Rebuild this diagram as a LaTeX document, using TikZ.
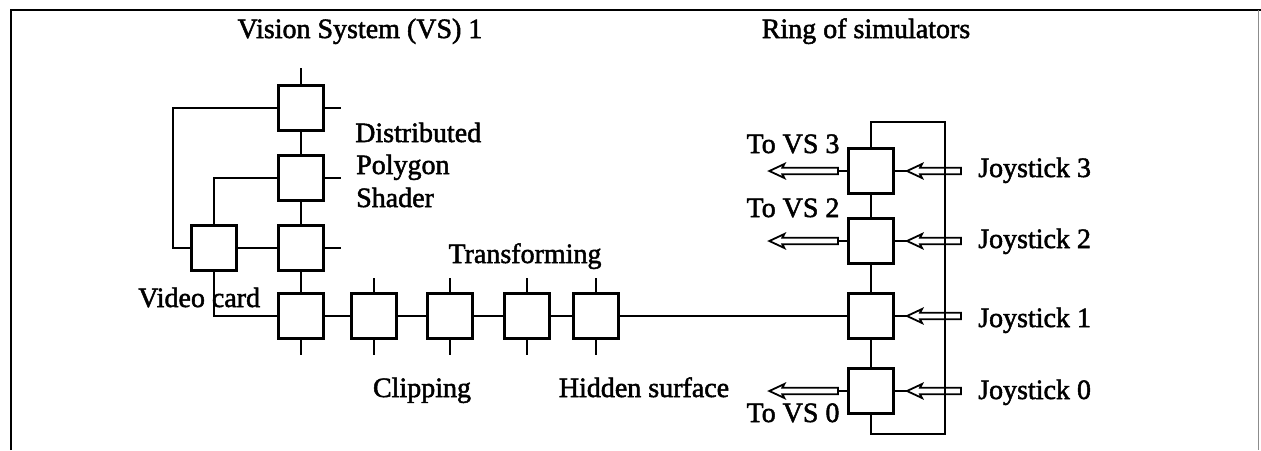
\documentclass[tikz,border=0pt]{standalone}
\usepackage{fontspec}
\setmainfont{Liberation Serif}[FakeBold=1.8]
\usetikzlibrary{arrows.meta,positioning,calc}

\tikzset{
  unit/.style={draw, line width=2.6pt, minimum size=45.4pt, inner sep=0pt},
  wire/.style={line width=2.5pt},
  fat/.style={line width=1.8pt, line join=miter, to path={
    let \p1=(\tikztostart), \p2=(\tikztotarget) in
    (\x1,\y1+3.2pt) -- (\x2+13pt,\y1+3.2pt) -- (\x2+15pt,\y1+7pt) -- (\x2,\y2)
    -- (\x2+15pt,\y1-7pt) -- (\x2+13pt,\y1-3.2pt) -- (\x1,\y1-3.2pt) -- cycle}},
  lbl/.style={font=\fontsize{28}{30}\selectfont, inner sep=0pt},
}

\begin{document}
\begin{tikzpicture}[x=1pt, y=-1pt]
\useasboundingbox (0,0) rectangle (1261,450);

% Frame
\draw[line width=2.8pt] (11,450) -- (11,10) -- (1261,10);
\draw[black!45, line width=1pt] (1258,10) -- (1258,450);

% Headings
\node[lbl, anchor=base] (vshead) at (360,38) {Vision System (VS) 1};
\node[lbl, anchor=base] (ringhead) at (866,38) {Ring of simulators};

% Polygon shader column
\foreach \n/\y in {dps3/108, dps2/178, dps1/248, pipe/316} {
  \node[unit] (\n) at (301,\y) {};
}
% Pipeline row
\foreach \n/\x in {clip/374, tra/450, trb/527, hid/596} {
  \node[unit] (\n) at (\x,316) {};
}
\node[unit] (vcard) at (214,248) {};
% Ring of simulators
\foreach \n/\y in {sim3/171, sim2/241, sim1/316, sim0/391} {
  \node[unit] (\n) at (871,\y) {};
}
\coordinate (lbus) at (173,248);
\coordinate (rtop) at (945,122);
\coordinate (rbot) at (945,434);

% Wires
\draw[wire] (dps3) -- (dps2) -- (dps1) -- (pipe) -- (clip) -- (tra) -- (trb) -- (hid) -- (sim1);
\draw[wire] (sim3) -- (sim2) -- (sim1) -- (sim0);
\draw[wire] (sim3.north) |- (rtop) -- (rbot) -| (sim0.south);
\draw[wire] (dps3.west) -| (lbus) -- (vcard.west);
\draw[wire] (dps2.west) -| (vcard.north);
\draw[wire] (vcard) -- (dps1);
\draw[wire] (vcard.south) |- (pipe.west);

% Stubs
\draw[wire] (dps3.north) -- ++(0,-16);
\foreach \n in {dps3, dps2, dps1} {
  \draw[wire] (\n.east) -- ++(16,0);
}
\foreach \n in {clip, tra, trb, hid} {
  \draw[wire] (\n.north) -- ++(0,-14);
}
\foreach \n in {pipe, clip, tra, trb, hid} {
  \draw[wire] (\n.south) -- ++(0,15);
}

% Labels
\node[lbl, anchor=base west] (distr) at (355,142) {Distributed};
\node[lbl, anchor=base west] (polyg) at (356,174) {Polygon};
\node[lbl, anchor=base west] (shad) at (356,207) {Shader};
\node[lbl, anchor=base] (transf) at (525,263) {Transforming};
\node[lbl, anchor=base west] (vclab) at (138,307) {Video card};
\node[lbl, anchor=base] (cliplab) at (422,397) {Clipping};
\node[lbl, anchor=base] (hidlab) at (644,397) {Hidden surface};

% Joysticks
\foreach \k/\y in {3/177, 2/248, 1/327, 0/399} {
  \node[lbl, anchor=base west] (joy\k) at (978,\y) {Joystick \k};
  \draw[wire] (sim\k.east) -- ++(12,0) coordinate (jt\k);
  \draw[fat] ($(jt\k -| joy\k.west)+(-17,0)$) to (jt\k);
}

% Outputs to other vision systems
\foreach \k/\y in {3/153, 2/217, 0/422} {
  \node[lbl, anchor=base] (tovs\k) at (793,\y) {To VS \k};
  \draw[wire] (sim\k.west) -- ++(-9,0) coordinate (vt\k);
  \draw[fat] (vt\k) to ($(vt\k -| tovs\k.west)+(23,0)$);
}
\end{tikzpicture}
\end{document}
